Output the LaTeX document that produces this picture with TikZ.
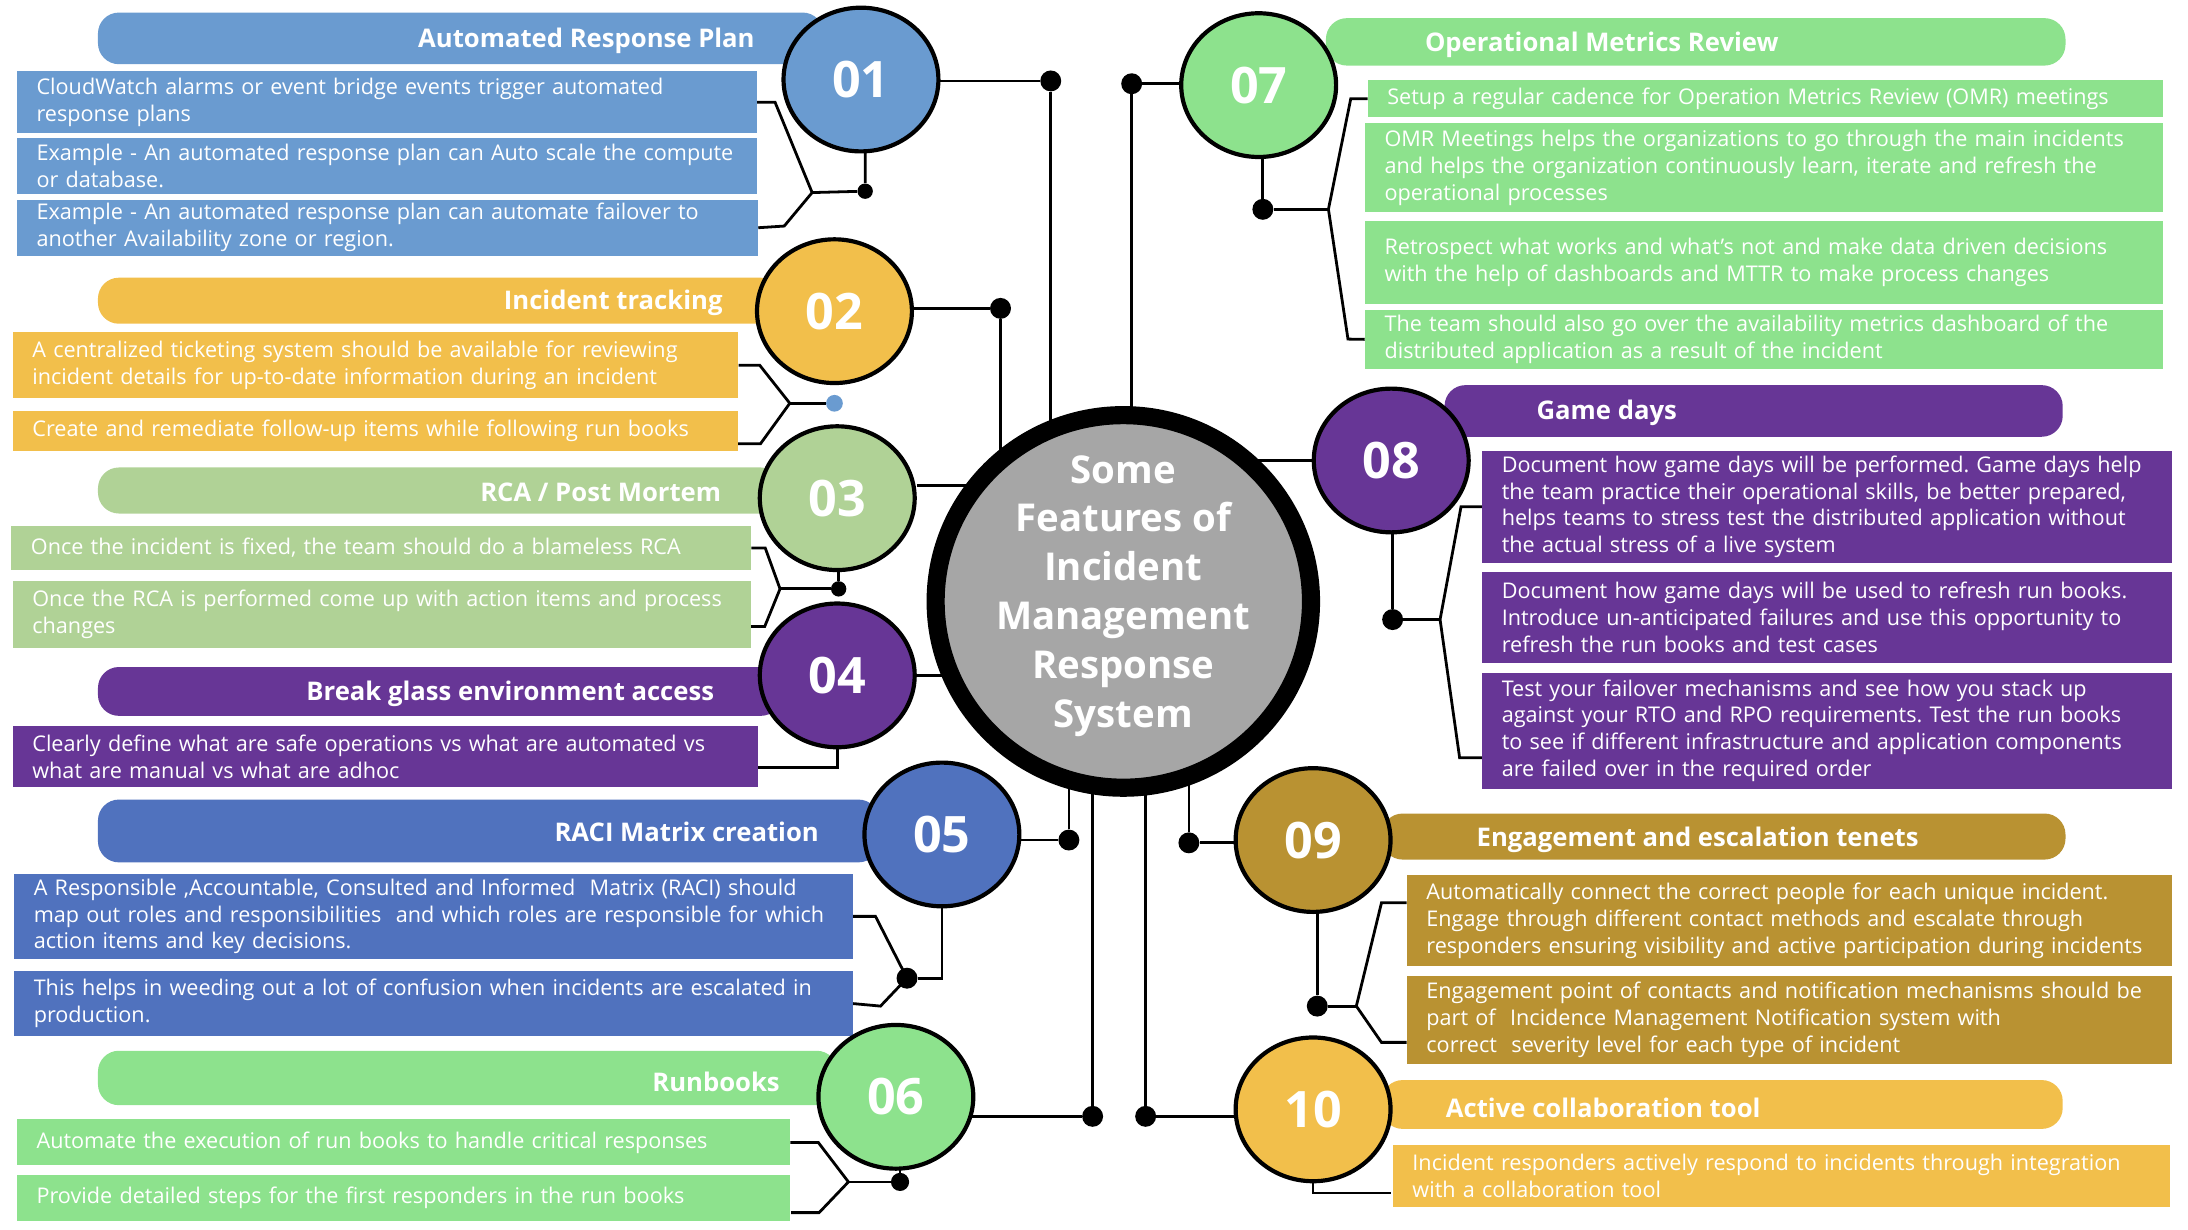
\documentclass[tikz,border=0pt]{standalone}
\usepackage{fontspec}
\setmainfont{Open Sans}
\usetikzlibrary{shapes,positioning,backgrounds,calc}

\definecolor{arpblue}{RGB}{106,155,208}
\definecolor{trackgold}{RGB}{242,191,75}
\definecolor{rcagreen}{RGB}{176,210,150}
\definecolor{glasspurple}{RGB}{103,54,150}
\definecolor{raciblue}{RGB}{80,114,190}
\definecolor{bookgreen}{RGB}{141,226,141}
\definecolor{tenetgold}{RGB}{185,146,50}
\definecolor{hubgrey}{RGB}{166,166,166}

\begin{document}
\frenchspacing
\begin{tikzpicture}[
    x=1pt, y=-1pt,
    feat/.style={ellipse, draw=black, line width=3pt, text=white, font=\fontsize{36}{36}\selectfont\bfseries, minimum width=111pt, minimum height=103pt, inner sep=0pt},
    pill/.style={rounded corners=15pt, anchor=west, inner sep=0pt},
    head/.style={text=white, font=\fontsize{18.4}{20}\selectfont\bfseries, inner sep=0pt, yshift=-2pt},
    info/.style={anchor=north west, text=white, align=left, inner xsep=14pt, inner ysep=0pt, font=\fontsize{15.5}{19.3}\selectfont},
    dot/.style={circle, fill=black, minimum size=15pt, inner sep=0pt},
    link/.style={line width=2pt}
]
\useasboundingbox (0,0) rectangle (1568,881);

% 01 Automated Response Plan
\node[pill, fill=arpblue, minimum width=520pt, minimum height=37pt] (h1) at (70,27.5) {};
\node[head, anchor=east] (t1) at (541,27) {Automated Response Plan};
\node[info, fill=arpblue, text width=502pt, minimum height=44pt] (b11) at (12,51) {CloudWatch alarms or event bridge events trigger automated\\response plans};
\node[info, fill=arpblue, text width=502pt, minimum height=40pt] (b12) at (12,99) {Example - An automated response plan can Auto scale the compute\\or database.};
\node[info, fill=arpblue, text width=503pt, minimum height=40pt] (b13) at (12,143) {Example - An automated response plan can automate failover to\\another Availability zone or region.};

% 02 Incident tracking
\node[pill, fill=trackgold, minimum width=490pt, minimum height=33pt] (h2) at (70,215.5) {};
\node[head, anchor=east] (t2) at (518,215) {Incident tracking};
\node[info, fill=trackgold, text width=492pt, minimum height=47pt] (b21) at (9,238) {A centralized ticketing system should be available for reviewing\\incident details for up-to-date information during an incident};
\node[info, fill=trackgold, text width=492pt, minimum height=29pt] (b22) at (9,294) {Create and remediate follow-up items while following run books};

% 03 RCA / Post Mortem
\node[pill, fill=rcagreen, minimum width=490pt, minimum height=33pt] (h3) at (70,351.5) {};
\node[head, anchor=east] (t3) at (517,351) {RCA / Post Mortem};
\node[info, fill=rcagreen, text width=502pt, minimum height=31pt] (b31) at (8,377) {Once the incident is fixed, the team should do a blameless RCA};
\node[info, fill=rcagreen, text width=501pt, minimum height=48pt] (b32) at (9,416) {Once the RCA is performed come up with action items and process\\changes};

% 04 Break glass environment access
\node[pill, fill=glasspurple, minimum width=490pt, minimum height=35pt] (h4) at (70,495.5) {};
\node[head, anchor=east] (t4) at (512,495) {Break glass environment access};
\node[info, fill=glasspurple, text width=506pt, minimum height=44pt] (b41) at (9,520) {Clearly define what are safe operations vs what are automated vs\\what are manual vs what are adhoc};

% 05 RACI Matrix creation
\node[pill, fill=raciblue, minimum width=560pt, minimum height=45pt] (h5) at (70,595.5) {};
\node[head, anchor=east] (t5) at (587,594) {RACI Matrix creation};
\node[info, fill=raciblue, text width=573pt, minimum height=61pt] (b51) at (10,626) {A Responsible ,Accountable, Consulted and Informed\ \ Matrix (RACI) should\\map out roles and responsibilities\ \ and which roles are responsible for which\\action items and key decisions.};
\node[info, fill=raciblue, text width=573pt, minimum height=46pt] (b52) at (10,696) {This helps in weeding out a lot of confusion when incidents are escalated in\\production.};

% 06 Runbooks
\node[pill, fill=bookgreen, minimum width=530pt, minimum height=39pt] (h6) at (70,772.5) {};
\node[head, anchor=east] (t6) at (559,773) {Runbooks};
\node[info, fill=bookgreen, text width=526pt, minimum height=33pt] (b61) at (12,802) {Automate the execution of run books to handle critical responses};
\node[info, fill=bookgreen, text width=526pt, minimum height=33pt] (b62) at (12,842) {Provide detailed steps for the first responders in the run books};

% 07 Operational Metrics Review
\node[pill, fill=bookgreen, minimum width=530pt, minimum height=34pt] (h7) at (950,30) {};
\node[head, anchor=west] (t7) at (1021,30) {Operational Metrics Review};
\node[info, fill=bookgreen, text width=542pt, minimum height=27pt] (b71) at (980,57) {Setup a regular cadence for Operation Metrics Review (OMR) meetings};
\node[info, fill=bookgreen, text width=544pt, minimum height=64pt] (b72) at (978,88) {OMR Meetings helps the organizations to go through the main incidents\\and helps the organization continuously learn, iterate and refresh the\\operational processes};
\node[info, fill=bookgreen, text width=544pt, minimum height=60pt] (b73) at (978,158) {Retrospect what works and what’s not and make data driven decisions\\with the help of dashboards and MTTR to make process changes};
\node[info, fill=bookgreen, text width=544pt, minimum height=42pt] (b74) at (978,222) {The team should also go over the availability metrics dashboard of the\\distributed application as a result of the incident};

% 08 Game days
\node[pill, fill=glasspurple, minimum width=443pt, minimum height=37pt] (h8) at (1035,294.5) {};
\node[head, anchor=west] (t8) at (1101,294) {Game days};
\node[info, fill=glasspurple, text width=466pt, minimum height=80pt] (b81) at (1062,323) {Document how game days will be performed. Game days help\\the team practice their operational skills, be better prepared,\\helps teams to stress test the distributed application without\\the actual stress of a live system};
\node[info, fill=glasspurple, text width=466pt, minimum height=65pt] (b82) at (1062,410) {Document how game days will be used to refresh run books.\\Introduce un-anticipated failures and use this opportunity to\\refresh the run books and test cases};
\node[info, fill=glasspurple, text width=466pt, minimum height=83pt] (b83) at (1062,482) {Test your failover mechanisms and see how you stack up\\against your RTO and RPO requirements. Test the run books\\to see if different infrastructure and application components\\are failed over in the required order};

% 09 Engagement and escalation tenets
\node[pill, fill=tenetgold, minimum width=490pt, minimum height=33pt] (h9) at (990,599.5) {};
\node[head, anchor=west] (t9) at (1058,600) {Engagement and escalation tenets};
\node[info, fill=tenetgold, text width=520pt, minimum height=65pt] (b91) at (1008,627) {Automatically connect the correct people for each unique incident.\\Engage through different contact methods and escalate through\\responders ensuring visibility and active participation during incidents};
\node[info, fill=tenetgold, text width=520pt, minimum height=63pt] (b92) at (1008,699) {Engagement point of contacts and notification mechanisms should be\\part of\ \ Incidence Management Notification system with\\correct\ \ severity level for each type of incident};

% 10 Active collaboration tool
\node[pill, fill=trackgold, minimum width=488pt, minimum height=35pt] (h10) at (990,791.5) {};
\node[head, anchor=west] (t10) at (1036,792) {Active collaboration tool};
\node[info, fill=trackgold, text width=529pt, minimum height=45pt] (b10) at (998,820) {Incident responders actively respond to incidents through integration\\with a collaboration tool};

% numbered circles
\node[feat, fill=arpblue] (c1) at (617,57) {01};
\node[feat, fill=trackgold] (c2) at (598,223) {02};
\node[feat, fill=rcagreen] (c3) at (600,357) {03};
\node[feat, fill=glasspurple] (c4) at (600,484) {04};
\node[feat, fill=raciblue] (c5) at (675,598) {05};
\node[feat, fill=bookgreen] (c6) at (642,786) {06};
\node[feat, fill=bookgreen] (c7) at (902,61) {07};
\node[feat, fill=glasspurple] (c8) at (997,330) {08};
\node[feat, fill=tenetgold] (c9) at (941,602) {09};
\node[feat, fill=trackgold] (c10) at (941,795) {10};

% hub
\node[ellipse, draw=black, line width=13pt, fill=hubgrey, minimum width=269pt, minimum height=267pt, inner sep=0pt] (hub) at (805,431) {};
\node[text=white, align=center, font=\fontsize{27.5}{35}\selectfont\bfseries, inner sep=0pt] (hubtxt) at (805,427) {Some\\Features of\\Incident\\Management\\Response\\System};

% dots
\node[dot] (d1) at (753,58) {};
\node[dot] (d2) at (717,221) {};
\node[dot] (d5) at (766,602) {};
\node[dot] (d6) at (783,800) {};
\node[dot] (d7) at (811,60) {};
\node[dot] (d9) at (852,604) {};
\node[dot] (d10) at (821,800) {};
\node[dot, minimum size=11pt] (e1) at (620,137) {};
\node[dot, fill=arpblue, minimum size=12pt] (e2) at (598,289) {};
\node[dot, minimum size=11pt] (e3) at (601,422) {};
\node[dot] (e5) at (650,701) {};
\node[dot, minimum size=13pt] (e6) at (645,847) {};
\node[dot] (e7) at (905,150) {};
\node[dot] (e8) at (998,444) {};
\node[dot] (e9) at (944,721) {};
\coordinate (v1) at (582,138);
\coordinate (v2) at (566,289);
\coordinate (v3) at (559,422);
\coordinate (v5) at (650,701);
\coordinate (v6) at (608,847);
\coordinate (v7) at (952,150);
\coordinate (v8) at (1032,444);
\coordinate (v9) at (972,721);

\begin{scope}[on background layer]
% links to the hub
\draw[link] (d1 -| c1) -- (d1) -- (d1 |- hub);
\draw[link] (d2 -| c2) -- (d2) -- (d2 |- hub);
\draw[link] ([yshift=9pt]c3.east) -- ([yshift=9pt]c3.east -| hub);
\draw[link] (c4) -- (c4 -| hub);
\draw[link] (d5 -| c5) -- (d5) -- (d5 |- hub);
\draw[link] (d6 -| c6) -- (d6) -- (d6 |- hub);
\draw[link] (d7 -| c7) -- (d7) -- (d7 |- hub);
\draw[link] (c8) -- (c8 -| hub);
\draw[link] (d9 -| c9) -- (d9) -- (d9 |- hub);
\draw[link] (d10 -| c10) -- (d10) -- (d10 |- hub);

% brackets to the boxes
\draw[link] (e1 |- c1) -- (e1) -- (v1);
\draw[link] (b11.east) -- ++(13,0) -- (v1) -- ++(-20,24) -- (b13.east);
\draw[link] (e2) -- (v2);
\draw[link] (b21.east) -- ++(15,0) -- (v2) -- ++(-21,29) -- ++(-16,0);
\draw[link] (e3 |- c3) -- (e3) -- (v3);
\draw[link] (b31.east) -- ++(10,0) -- (v3) -- ++(-11,27) -- ++(-10,0);
\draw[link] (c4.south) -- ++(0,13) -- ++(-57,0);
\draw[link] (c5) |- (e5);
\draw[link] (b51.east) -- ++(16,0) -- (v5) -- ++(-19,20) -- (b52.east);
\draw[link] (e6 |- c6) -- (e6) -- (v6);
\draw[link] (b61.east) -- ++(20,0) -- (v6) -- ++(-21,22) -- ++(-20,0);
\draw[link] (e7 |- c7) -- (e7) -- (v7);
\draw[link] (b71.west) -- ++(-12,0) -- (v7) -- ++(14,93) -- (b74.west);
\draw[link] (e8 |- c8) -- (e8) -- (v8);
\draw[link] (b81.west) -- ++(-15,0) -- (v8) -- ++(14,99) -- ++(16,0);
\draw[link] (e9 |- c9) -- (e9) -- (v9);
\draw[link] (v9) ++(36,-74) -- ++(-18,0) -- (v9) -- ++(18,26) -- ++(18,0);
\draw[link] (c10.south) -- ++(0,7) -- ++(56,0);
\end{scope}
\end{tikzpicture}
\end{document}
